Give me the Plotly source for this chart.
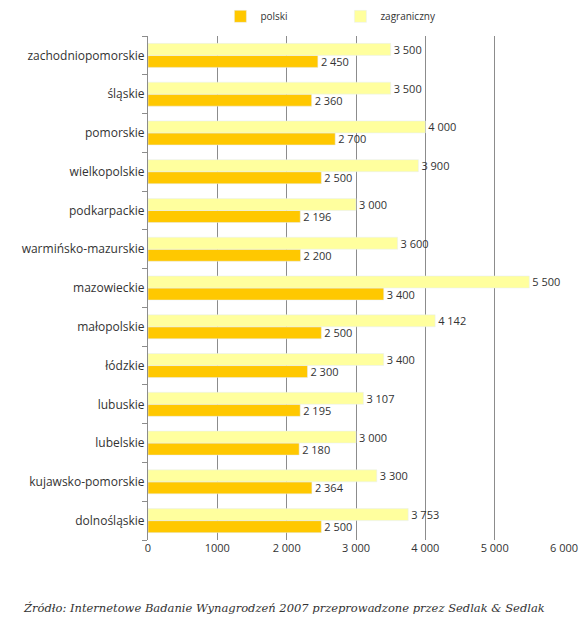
import plotly.graph_objects as go

### Data (bottom to top, as in the chart) ###
regions = ['dolnośląskie', 'kujawsko-pomorskie', 'lubelskie', 'lubuskie', 'łódzkie',
           'małopolskie', 'mazowieckie', 'warmińsko-mazurskie', 'podkarpackie',
           'wielkopolskie', 'pomorskie', 'śląskie', 'zachodniopomorskie']
polski = [2500, 2364, 2180, 2195, 2300, 2500, 3400, 2200, 2196, 2500, 2700, 2360, 2450]
zagraniczny = [3753, 3300, 3000, 3107, 3400, 4142, 5500, 3600, 3000, 3900, 4000, 3500, 3500]
tick_vals = [0, 1000, 2000, 3000, 4000, 5000, 6000]
tick_text = ['0', '1000', '2 000', '3 000', '4 000', '5 000', '6 000']

def fmt(v):
    return f'{v:,}'.replace(',', ' ')

font = 'Open Sans'
label_font = dict(size=11, color='#333333')

fig = go.Figure()
fig.add_trace(go.Bar(y=regions, x=polski, name='polski', orientation='h',
                     marker_color='#FFC800', text=[fmt(v) for v in polski],
                     textposition='outside', cliponaxis=False, constraintext='none',
                     textfont=label_font))
fig.add_trace(go.Bar(y=regions, x=zagraniczny, name='zagraniczny', orientation='h',
                     marker_color='#FFFF9E', text=[fmt(v) for v in zagraniczny],
                     textposition='outside', cliponaxis=False, constraintext='none',
                     textfont=label_font))

fig.update_layout(
    width=580, height=623,
    paper_bgcolor='white', plot_bgcolor='white',
    font=dict(family=font, size=11, color='#333333'),
    barmode='group', bargap=0.38, bargroupgap=0,
    margin=dict(l=148, r=16, t=36, b=83, autoexpand=False),
    showlegend=True,
    legend=dict(orientation='h', xref='container', yref='container',
                x=0.38, xanchor='left', y=0.997, yanchor='top',
                font=dict(size=10), itemwidth=30, entrywidth=75),
    xaxis=dict(range=[0, 6000], tickvals=tick_vals, ticktext=tick_text, automargin=False,
               showgrid=True, gridcolor='#8c8c8c', gridwidth=1, zeroline=False,
               showline=False, ticks='', tickfont=dict(size=11)),
    yaxis=dict(showline=True, linecolor='#8c8c8c', ticks='outside', tickson='boundaries',
               automargin=False, ticklen=5, tickcolor='#8c8c8c', tickfont=dict(size=12),
               showgrid=False),
)

fig.add_annotation(text='<i>Źródło: Internetowe Badanie Wynagrodzeń 2007 przeprowadzone przez Sedlak & Sedlak</i>',
                   xref='paper', yref='paper', x=-0.305, y=-0.118, xanchor='left', yanchor='top',
                   showarrow=False, font=dict(family='DejaVu Serif', size=11.5, color='#333333'))

fig.write_html("out.html", config={'displayModeBar': False},
               post_script="document.body.style.margin='0';")
